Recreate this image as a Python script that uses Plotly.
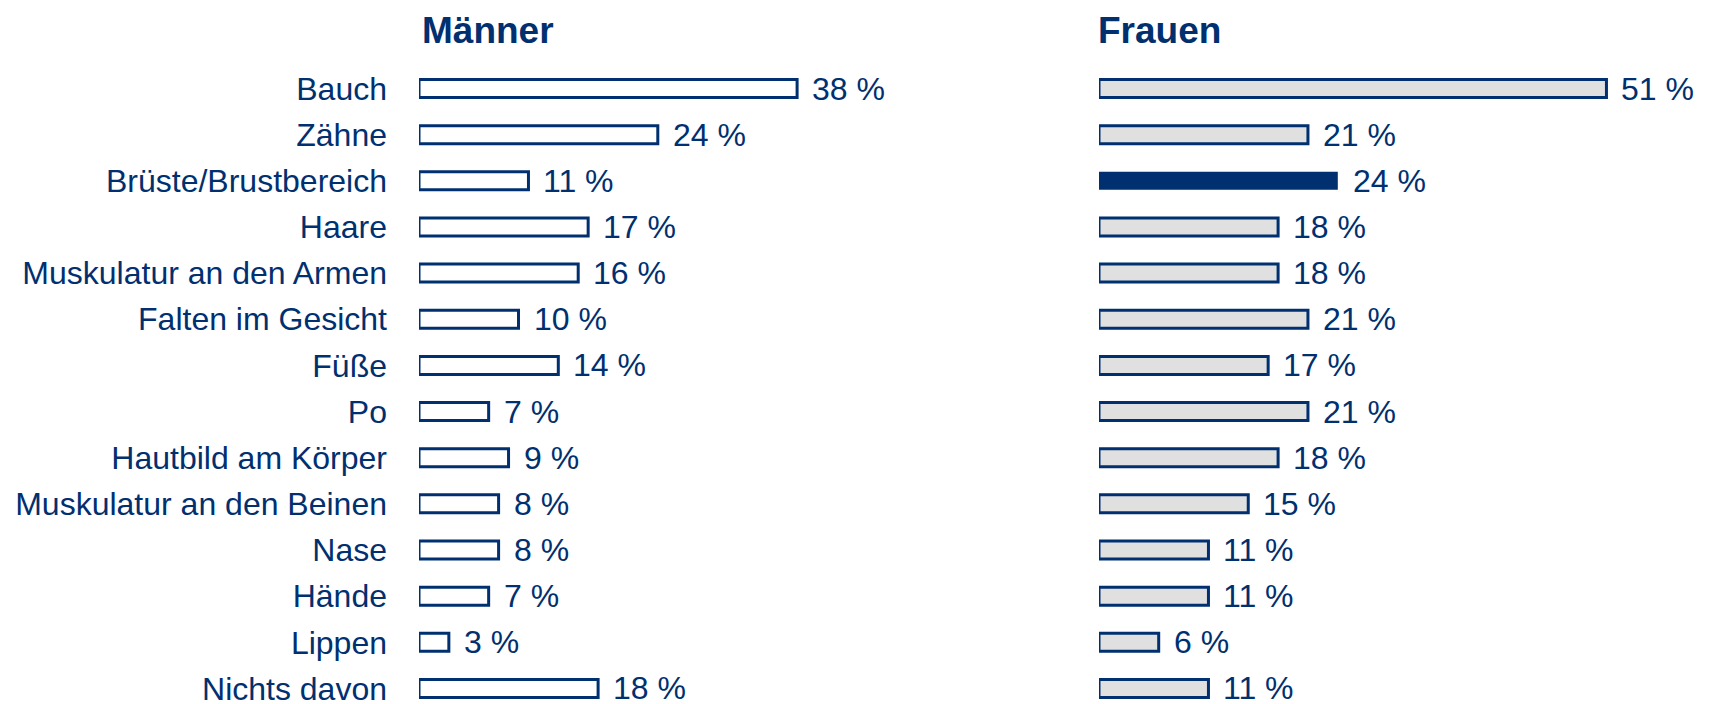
import plotly.graph_objects as go

categories = ["Bauch", "Zähne", "Brüste/Brustbereich", "Haare", "Muskulatur an den Armen",
              "Falten im Gesicht", "Füße", "Po", "Hautbild am Körper",
              "Muskulatur an den Beinen", "Nase", "Hände", "Lippen", "Nichts davon"]
maenner = [38, 24, 11, 17, 16, 10, 14, 7, 9, 8, 8, 7, 3, 18]
frauen = [51, 21, 24, 18, 18, 21, 17, 21, 18, 15, 11, 11, 6, 11]
highlight_frauen = "Brüste/Brustbereich"

NAVY = "#00306F"
GRAY = "#E0E0E0"
FONT = "Liberation Sans, Arial, sans-serif"
W, H = 1717, 704
OFF = 8  # page body margin compensation
PX_PER_PCT = 9.95

fig = go.Figure()
fig.add_trace(go.Bar(
    y=categories, x=maenner, orientation="h", xaxis="x", yaxis="y",
    marker=dict(color="white", line=dict(color=NAVY, width=3)),
    width=0.39, hoverinfo="skip", showlegend=False))
fig.add_trace(go.Bar(
    y=categories, x=frauen, orientation="h", xaxis="x2", yaxis="y2",
    marker=dict(color=[NAVY if c == highlight_frauen else GRAY for c in categories],
                line=dict(color=NAVY, width=[0 if c == highlight_frauen else 3 for c in categories])),
    width=0.39, hoverinfo="skip", showlegend=False))

annotations = []
for c, v in zip(categories, maenner):
    annotations.append(dict(x=v, y=c, xref="x", yref="y", text=f"{v} %", showarrow=False,
                            xanchor="left", yanchor="middle", xshift=13,
                            font=dict(size=32, color=NAVY, family=FONT)))
for c, v in zip(categories, frauen):
    annotations.append(dict(x=v, y=c, xref="x2", yref="y2", text=f"{v} %", showarrow=False,
                            xanchor="left", yanchor="middle", xshift=13,
                            font=dict(size=32, color=NAVY, family=FONT)))
annotations.append(dict(x=(420 - OFF) / W, y=1.0, xref="paper", yref="paper",
                        text="<b>Männer</b>", showarrow=False, xanchor="left", yanchor="top",
                        font=dict(size=37, color=NAVY, family=FONT)))
annotations.append(dict(x=(1096 - OFF) / W, y=1.0, xref="paper", yref="paper",
                        text="<b>Frauen</b>", showarrow=False, xanchor="left", yanchor="top",
                        font=dict(size=37, color=NAVY, family=FONT)))

row0, step = 88.5 - OFF, 46.15
yrange = [(H - row0) / step, -row0 / step]

x1_left = 419 - OFF
x2_left = 1099 - OFF

fig.update_layout(
    width=W, height=H, margin=dict(l=0, r=0, t=0, b=0),
    paper_bgcolor="white", plot_bgcolor="white",
    font=dict(family=FONT, color=NAVY),
    xaxis=dict(domain=[x1_left / W, (x1_left + 560) / W], range=[0, 560 / PX_PER_PCT],
               visible=False),
    xaxis2=dict(domain=[x2_left / W, 1.0], range=[0, (W - x2_left) / PX_PER_PCT],
                visible=False),
    yaxis=dict(anchor="x", range=yrange, showgrid=False, zeroline=False, showline=False,
               automargin=False,
               ticks="", ticklabelstandoff=31, tickfont=dict(size=32, color=NAVY, family=FONT),
               categoryorder="array", categoryarray=categories),
    yaxis2=dict(anchor="x2", range=yrange, showgrid=False, zeroline=False, showline=False,
                showticklabels=False, ticks="", automargin=False,
                categoryorder="array", categoryarray=categories),
    annotations=annotations,
)

fig.write_html("out.html")
